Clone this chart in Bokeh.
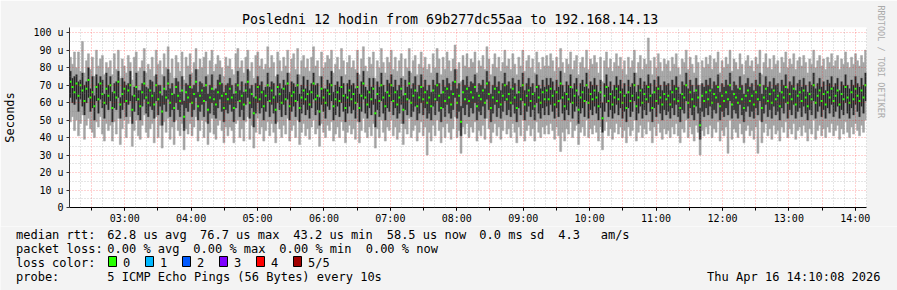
import math
from datetime import datetime, timedelta
from bokeh.plotting import figure
from bokeh.layouts import column
from bokeh.models import Range1d, FixedTicker, Grid, Title, DatetimeTickFormatter, ColumnDataSource
from bokeh.core.properties import value
from bokeh.embed import file_html
from bokeh.resources import INLINE

# ---------------- data ----------------
START = datetime(2026, 4, 16, 2, 10, 8)
END = datetime(2026, 4, 16, 14, 10, 8)
STEP_S = 108  # one consolidated sample every 1.8 minutes

# median rtt (us)
med = [
    72,69,66,71,64,70,67,61,68,73,63,66,58,69,62,71,65,60,68,64,
    70,57,66,63,72,59,65,68,61,67,70,56,64,69,62,58,66,71,63,60,
    67,64,59,70,62,66,55,68,63,71,60,65,57,69,64,61,67,52,66,63,
    69,60,65,72,58,64,67,61,70,56,63,68,62,59,66,71,64,57,65,62,
    68,63,57,66,70,61,64,59,67,72,60,65,54,63,69,62,66,58,64,70,
    61,67,63,56,69,65,60,68,62,71,58,64,66,61,70,57,63,67,62,65,
    59,66,71,62,64,55,68,63,60,67,65,70,58,62,66,61,69,64,57,63,
    67,62,65,60,69,57,64,71,63,59,66,62,68,54,65,61,70,63,58,66,
    64,70,61,66,59,63,68,56,65,62,71,60,64,67,58,63,69,62,66,60,
    63,58,67,62,70,64,57,66,61,68,63,59,65,72,60,64,49,66,62,68,
    61,66,63,69,58,64,62,67,60,71,65,57,63,68,61,66,59,64,70,62,
    65,60,68,63,57,66,62,70,59,64,67,61,65,58,69,63,60,66,62,67,
    62,68,64,59,66,61,71,63,58,65,62,69,60,64,67,56,63,66,61,70,
    60,65,62,67,63,58,66,51,64,69,61,65,59,63,68,62,66,60,64,57,
    66,61,64,70,58,63,67,60,65,62,69,64,57,66,61,68,63,59,65,62,
    64,59,66,62,68,61,57,65,63,70,60,66,62,58,67,63,47,64,61,66,
    62,67,60,65,63,69,58,64,61,66,62,70,59,65,63,60,68,62,57,64,
    67,61,64,59,66,62,70,57,63,68,61,65,60,67,62,64,58,66,63,69,
    60,65,62,68,59,64,66,61,67,63,58,65,62,70,60,64,67,61,65,59,
    66,63,68,61,64,67,59,65,62,69,63,60,66,62,68,64,61,67,63,70,
]
# 4th of the 5 sorted pings
p4 = [
    78,74,75,76,72,73,77,70,72,80,68,75,64,76,71,75,73,65,77,70,
    75,66,71,72,78,63,74,72,70,71,78,64,69,77,67,67,71,78,69,68,
    73,72,66,76,70,70,64,75,67,79,68,71,65,74,72,66,75,61,71,70,
    76,68,70,79,66,72,71,69,75,65,70,76,67,68,73,76,71,66,70,71,
    74,70,65,71,78,67,72,66,71,79,68,70,63,71,75,70,72,67,69,77,
    69,72,71,64,76,71,68,73,70,77,66,72,71,69,76,65,70,75,68,73,
    67,71,77,70,71,63,75,68,68,73,71,78,66,70,72,69,75,71,65,71,
    73,70,71,68,77,65,72,78,69,67,74,69,74,62,72,69,77,70,66,73,
    71,76,69,73,67,70,74,64,73,69,78,68,71,75,66,70,76,69,73,67,
    70,66,73,70,77,71,65,73,69,74,71,67,72,79,68,71,58,73,70,75,
    69,72,71,76,66,71,70,73,68,78,72,65,70,75,69,72,67,71,77,70,
    72,68,74,71,65,73,69,77,67,71,74,69,71,66,76,70,68,73,69,74,
    70,74,72,67,73,69,78,70,66,72,70,76,68,71,74,64,71,73,69,77,
    68,72,70,74,70,66,73,60,71,76,69,72,67,70,75,70,73,68,71,65,
    73,69,71,77,66,70,74,68,72,70,76,71,65,73,69,75,70,67,72,70,
    71,67,73,70,75,69,65,72,70,77,68,73,70,66,74,70,57,71,69,73,
    70,74,68,72,70,76,66,71,69,73,70,77,67,72,70,68,75,70,65,71,
    74,69,71,67,73,70,77,65,70,75,69,72,68,74,70,71,66,73,70,76,
    68,72,70,75,67,71,73,69,74,70,66,72,70,77,68,71,74,69,72,67,
    73,71,75,69,71,74,67,72,70,76,70,68,73,70,75,71,69,74,70,77,
]
# max of the 5 pings
p5 = [
    86,82,89,80,89,78,95,77,84,88,79,86,75,90,81,85,87,76,83,80,
    84,76,88,79,90,74,85,81,77,87,83,73,86,89,78,80,84,91,77,82,
    79,86,75,90,82,84,76,88,80,92,77,85,74,87,83,78,89,73,86,81,
    88,77,83,91,79,85,80,86,89,76,84,90,78,82,87,84,80,75,86,81,
    85,79,76,88,91,80,84,77,86,90,78,83,74,87,89,81,85,79,82,92,
    80,87,83,75,89,84,78,86,81,90,77,85,88,79,91,76,84,87,80,85,
    78,86,92,81,84,75,89,80,83,87,85,90,77,82,86,79,91,84,76,83,
    87,80,84,79,90,76,85,92,81,78,86,82,89,74,84,80,91,83,77,86,
    83,90,79,86,78,84,88,75,85,80,91,77,84,87,76,82,89,80,86,79,
    82,77,88,80,91,85,76,86,79,89,84,78,85,93,79,83,72,87,81,88,
    80,85,83,89,77,84,81,87,79,92,85,76,82,88,80,86,78,83,90,81,
    85,79,88,82,76,86,81,90,78,84,87,80,85,77,89,83,79,86,81,87,
    81,88,84,78,86,80,91,83,77,85,82,89,79,84,87,76,83,86,80,90,
    79,85,82,87,83,77,86,72,84,89,80,85,78,83,88,81,86,79,84,76,
    86,80,84,90,77,83,87,79,85,82,97,84,76,86,80,88,83,78,85,82,
    84,78,86,82,88,80,76,85,83,90,79,86,82,77,87,83,70,84,80,86,
    82,87,79,85,83,89,77,84,80,86,82,90,78,85,83,79,88,82,76,84,
    87,81,84,78,86,82,90,76,83,88,80,85,79,87,82,84,77,86,83,89,
    80,85,82,88,79,84,86,81,87,83,77,85,82,90,80,84,87,81,85,79,
    86,83,88,81,84,87,79,85,82,89,83,80,86,82,88,84,81,87,83,90,
]
# 2nd of the 5 sorted pings
p2 = [
    63,60,59,62,55,62,58,53,60,63,55,57,50,61,54,62,57,51,59,56,
    61,49,57,56,63,51,56,60,52,59,61,48,55,61,53,50,58,62,54,52,
    58,56,51,61,53,58,47,59,55,62,52,56,49,60,56,52,59,44,57,55,
    60,52,56,63,50,55,59,52,61,48,54,60,53,51,57,62,55,49,56,54,
    59,55,49,57,61,52,56,50,59,63,51,57,46,54,60,54,57,50,55,61,
    52,59,54,48,60,56,52,59,53,62,50,55,58,52,61,49,54,59,53,56,
    51,57,62,53,56,47,59,55,51,58,56,61,50,53,58,52,60,55,49,54,
    58,54,56,51,60,49,55,62,54,51,57,53,59,46,56,52,61,54,50,57,
    55,61,53,57,51,54,59,48,56,53,62,52,55,58,50,54,60,53,57,51,
    54,50,58,53,61,55,49,57,52,59,54,51,56,63,51,55,41,57,53,59,
    52,57,54,60,50,55,53,58,51,62,56,49,54,59,52,57,51,55,61,53,
    56,52,59,54,49,57,53,61,50,55,58,52,56,50,60,54,51,57,53,58,
    53,59,55,51,57,52,62,54,50,56,53,60,51,55,58,48,54,57,52,61,
    51,56,53,58,54,50,57,43,55,60,52,56,51,54,59,53,57,51,55,49,
    57,52,55,61,50,54,58,51,56,53,60,55,49,57,52,59,54,50,56,53,
    55,51,57,53,59,52,49,56,54,61,51,57,53,50,58,54,39,55,52,57,
    53,58,51,56,54,60,50,55,52,57,53,61,51,56,54,51,59,53,49,55,
    58,52,55,51,57,53,61,49,54,59,52,56,51,58,53,55,50,57,54,60,
    51,56,53,59,51,55,57,52,58,54,50,56,53,61,51,55,58,52,56,51,
    57,54,59,52,55,58,51,56,53,60,54,51,57,53,59,55,52,58,54,61,
]
# min of the 5 pings
p1 = [
    49,52,44,50,41,48,53,39,47,51,45,43,40,49,46,52,42,38,48,44,
    47,38,49,42,51,36,45,50,40,48,52,35,44,50,41,39,47,53,43,40,
    45,48,37,52,40,47,34,49,43,51,39,46,36,50,44,41,48,33,45,42,
    48,41,46,52,38,44,50,40,49,36,43,51,42,39,47,50,44,37,46,41,
    46,44,37,48,50,40,45,38,49,52,39,47,34,43,51,42,46,38,44,49,
    41,48,43,37,49,45,40,47,42,51,38,44,47,40,50,36,43,48,41,45,
    39,46,50,42,45,35,48,43,40,47,44,49,38,42,46,40,49,44,37,43,
    47,42,45,39,49,37,44,51,43,40,46,41,48,34,45,40,50,43,38,46,
    44,50,41,46,39,43,48,36,45,42,51,40,44,47,38,43,49,41,46,30,
    43,38,47,41,50,44,37,46,40,48,43,39,45,52,40,44,31,46,42,48,
    40,46,43,49,38,44,41,47,39,51,45,37,43,48,41,46,39,44,50,42,
    45,40,48,43,37,46,41,50,38,44,47,41,45,38,49,43,40,46,42,47,
    42,48,44,39,46,41,32,43,38,45,42,49,40,44,47,36,43,46,41,50,
    40,45,42,47,43,38,46,33,44,49,41,45,39,43,48,42,46,40,44,37,
    46,41,44,50,38,43,47,40,45,42,49,44,37,46,41,48,43,39,45,42,
    44,40,46,42,48,41,37,45,43,50,40,46,42,38,47,43,30,44,41,46,
    42,47,40,45,43,49,38,44,41,46,31,50,39,45,43,40,48,42,37,44,
    47,41,44,39,46,31,50,37,43,48,41,45,39,47,42,44,38,46,43,49,
    40,45,42,48,39,44,46,41,47,43,38,45,42,50,39,44,47,41,45,40,
    46,43,48,41,44,47,39,45,42,49,43,40,46,42,48,44,41,47,43,50,
]

y_ticks = [0, 10, 20, 30, 40, 50, 60, 70, 80, 90, 100]
y_labels = ["0", "10 u", "20 u", "30 u", "40 u", "50 u", "60 u", "70 u", "80 u", "90 u", "100 u"]
hour_ticks = ["03:00", "04:00", "05:00", "06:00", "07:00", "08:00", "09:00",
              "10:00", "11:00", "12:00", "13:00", "14:00"]

title_text = "Posledni 12 hodin from 69b277dc55aa to 192.168.14.13"
y_title = "Seconds"
side_text = "RRDTOOL / TOBI OETIKER"
rtt_items = ["median rtt:", "62.8 us avg", "76.7 us max", "43.2 us min", "58.5 us now",
             "0.0 ms sd", "4.3", "am/s"]
loss_items = ["packet loss:", "0.00 % avg", "0.00 % max", "0.00 % min", "0.00 % now"]
loss_names = ["0", "1", "2", "3", "4", "5/5"]
loss_colors = ["#26ff00", "#00b8ff", "#0059ff", "#7e00ff", "#ff0000", "#a10000"]
probe_items = ["probe:", "5 ICMP Echo Pings (56 Bytes) every 10s"]
date_text = "Thu Apr 16 14:10:08 2026"

# ---------------- helpers ----------------
EPOCH = datetime(1970, 1, 1)
def ms(d):
    return (d - EPOCH).total_seconds() * 1000.0

t0 = ms(START)
t1 = ms(END)
step_ms = STEP_S * 1000.0
n = len(med)
xs = [t0 + (i + 0.5) * step_ms for i in range(n)]
src = ColumnDataSource(dict(x=xs, p1=p1, p2=p2, med=med, p4=p4, p5=p5))

day = datetime(2026, 4, 16)
hour_vals = [ms(day + timedelta(hours=int(h[:2]))) for h in hour_ticks]
half_vals = []
ten_vals = []
tt = day + timedelta(hours=2, minutes=20)
while tt <= END:
    if tt.minute % 30 == 0:
        half_vals.append(ms(tt))
    else:
        ten_vals.append(ms(tt))
    tt += timedelta(minutes=10)

W = 897
H_MAIN, H_LEG = 226, 64
FL, FR, FT, FB = 67, 867, 27, 208  # frame of the main plot in pixels
BG = "#f3f3f3"
MONO = "DejaVu Sans Mono"

p = figure(width=W, height=H_MAIN, output_backend="svg", toolbar_location=None,
           x_range=Range1d(t0, t1), y_range=Range1d(0, 103),
           min_border_left=FL, min_border_right=W - FR,
           min_border_top=FT, min_border_bottom=H_MAIN - FB,
           background_fill_color="white", border_fill_color=BG,
           outline_line_color=None)

p.vbar(x="x", width=step_ms, bottom="p1", top="p5", source=src,
       fill_color="#a4a4a4", line_color="#a4a4a4", line_width=0.5)
p.vbar(x="x", width=step_ms, bottom="p2", top="p4", source=src,
       fill_color="#585858", line_color="#585858", line_width=0.5)
p.vbar(x="x", width=step_ms * 0.4, bottom="p2", top="p4", source=src,
       fill_color="#1a1a1a", line_color=None)
p.rect(x="x", y="med", width=step_ms, height=2, height_units="screen",
       source=src, fill_color="#26ff00", line_color=None)

p.xgrid.visible = False
p.ygrid.visible = False
y_minor = [v + 5 for v in y_ticks[:-1]]
grids = [
    Grid(dimension=0, ticker=FixedTicker(ticks=ten_vals), grid_line_color="#808080",
         grid_line_alpha=0.4, grid_line_dash="1 2", level="overlay"),
    Grid(dimension=1, ticker=FixedTicker(ticks=y_minor), grid_line_color="#808080",
         grid_line_alpha=0.4, grid_line_dash="1 2", level="overlay"),
    Grid(dimension=0, ticker=FixedTicker(ticks=half_vals), grid_line_color="#ff0000",
         grid_line_alpha=0.35, grid_line_dash="1 2", level="overlay"),
    Grid(dimension=1, ticker=FixedTicker(ticks=y_ticks[1:]), grid_line_color="#ff0000",
         grid_line_alpha=0.35, grid_line_dash="1 2", level="overlay"),
]
for g in grids:
    p.add_layout(g)

xa = p.xaxis[0]
xa.ticker = FixedTicker(ticks=hour_vals, minor_ticks=half_vals)
xa.formatter = DatetimeTickFormatter(hours="%H:%M", hourmin="%H:%M", minutes="%H:%M",
                                     days="%H:%M", minsec="%H:%M")
xa.major_label_text_font = MONO
xa.major_label_text_font_size = "10px"
xa.major_label_text_color = "black"
xa.major_tick_out = 3
xa.major_tick_in = 0
xa.minor_tick_out = 3
xa.minor_tick_in = 0
xa.major_label_standoff = 2
xa.axis_line_color = "black"
xa.major_tick_line_color = "black"
xa.minor_tick_line_color = "black"

ya = p.yaxis[0]
ya.ticker = FixedTicker(ticks=y_ticks, minor_ticks=[])
ya.major_label_overrides = {v: s for v, s in zip(y_ticks, y_labels)}
ya.major_label_text_font = MONO
ya.major_label_text_font_size = "10px"
ya.major_label_text_color = "black"
ya.major_tick_out = 3
ya.major_tick_in = 0
ya.major_label_standoff = 3
ya.axis_line_color = "#333333"
ya.major_tick_line_color = "#333333"
ya.axis_label = y_title
ya.axis_label_text_font = MONO
ya.axis_label_text_font_size = "12px"
ya.axis_label_text_font_style = "normal"
ya.axis_label_text_color = "black"
ya.axis_label_standoff = 13

p.title.text = title_text
p.title.align = "left"
p.title.offset = 172.5
p.title.text_font = MONO
p.title.text_font_size = "13.3px"
p.title.text_font_style = "normal"
p.title.text_color = "black"
p.title.standoff = 2

side = Title(text=side_text, align="left", offset=-22, text_font=MONO,
             text_font_size="8.5px", text_font_style="normal", text_color="#aaaaaa",
             standoff=19)
p.add_layout(side, "right")

# ---------------- legend area (pixel coordinates) ----------------
q = figure(width=W, height=H_LEG, output_backend="svg", toolbar_location=None,
           x_range=Range1d(0, W), y_range=Range1d(H_MAIN + H_LEG, H_MAIN),
           min_border=0, x_axis_location=None, y_axis_location=None,
           background_fill_color=BG, border_fill_color=BG, outline_line_color=None)
q.xgrid.visible = False
q.ygrid.visible = False
for fig in (p, q):
    try:
        fig.frame_align = False
    except Exception:
        pass

tx, ty, tt_, ta = [], [], [], []
def put(x, y, s, align="left"):
    tx.append(x); ty.append(y); tt_.append(s); ta.append(align)

for x, s in zip([16, 107.3, 200, 293.3, 386.7, 479.3, 558.3, 600.7], rtt_items):
    put(x - 0.5, 234, s)
for x, s in zip([16, 107.3, 193.3, 279.3, 365.7], loss_items):
    put(x - 0.5, 248, s)
put(15.5, 262, "loss color:")
for k, nm in enumerate(loss_names):
    put(123 + 37 * k - 0.5, 262, nm)
put(15.5, 276, probe_items[0])
put(106.8, 276, probe_items[1])
put(880, 276, date_text, "right")

q.text(x=tx, y=ty, text=tt_, text_align=ta, text_baseline="middle",
       text_font=value(MONO), text_font_size="12px", text_color="black")
q.rect(x=[112 + 37 * k for k in range(len(loss_colors))], y=[261] * len(loss_colors),
       width=8, height=10, fill_color=loss_colors, line_color="black", line_width=1)

layout = column(p, q, spacing=0)
open("out.html", "w").write(file_html(layout, INLINE))
